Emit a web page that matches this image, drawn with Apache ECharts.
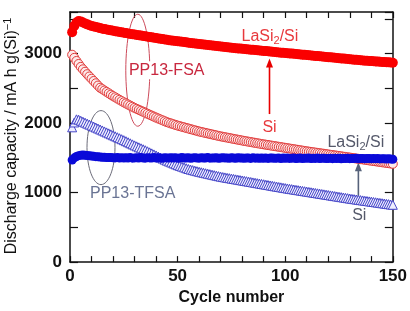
<!DOCTYPE html>
<html>
<head>
<meta charset="utf-8">
<script src="https://cdn.jsdelivr.net/npm/echarts@6/dist/echarts.min.js"></script>
<style>
  html, body { margin: 0; padding: 0; background: #fff; }
  #chart { width: 410px; height: 311px; }
</style>
</head>
<body>
<div id="chart"></div>
<script>
// discharge capacity per cycle (cycle 1..150)
const lasiFSA = [
  3310, 3400, 3450, 3470, 3465, 3450, 3435, 3422, 3410, 3400,
  3392, 3384, 3376, 3368, 3360, 3354, 3348, 3342, 3336, 3330,
  3324, 3318, 3312, 3307, 3301, 3296, 3290, 3285, 3280, 3275,
  3270, 3265, 3260, 3255, 3250, 3245, 3240, 3235, 3230, 3225,
  3220, 3215, 3210, 3205, 3200, 3195, 3191, 3187, 3183, 3179,
  3175, 3171, 3167, 3163, 3159, 3155, 3151, 3147, 3143, 3140,
  3136, 3133, 3129, 3125, 3122, 3118, 3114, 3111, 3107, 3103,
  3100, 3096, 3092, 3089, 3085, 3082, 3079, 3076, 3073, 3070,
  3067, 3064, 3061, 3058, 3055, 3052, 3049, 3046, 3043, 3040,
  3037, 3034, 3030, 3027, 3024, 3021, 3018, 3015, 3012, 3010,
  3007, 3004, 3001, 2998, 2995, 2992, 2989, 2986, 2983, 2980,
  2977, 2974, 2971, 2968, 2965, 2962, 2959, 2956, 2953, 2950,
  2947, 2944, 2941, 2938, 2935, 2932, 2929, 2926, 2923, 2920,
  2917, 2914, 2911, 2908, 2905, 2903, 2900, 2898, 2896, 2893,
  2891, 2888, 2886, 2884, 2882, 2879, 2877, 2875, 2872, 2870
];
const siFSA = [
  2985, 2940, 2895, 2852, 2810, 2775, 2740, 2705, 2672, 2640,
  2607, 2574, 2541, 2510, 2490, 2470, 2450, 2430, 2410, 2390,
  2372, 2354, 2336, 2318, 2300, 2284, 2268, 2252, 2236, 2220,
  2206, 2192, 2178, 2164, 2150, 2136, 2122, 2108, 2094, 2080,
  2067, 2054, 2041, 2028, 2015, 2005, 1995, 1985, 1975, 1965,
  1957, 1948, 1940, 1931, 1923, 1914, 1906, 1897, 1889, 1880,
  1873, 1866, 1859, 1852, 1845, 1838, 1831, 1824, 1817, 1810,
  1804, 1798, 1792, 1786, 1780, 1774, 1768, 1762, 1756, 1750,
  1744, 1739, 1733, 1728, 1722, 1717, 1711, 1706, 1700, 1695,
  1690, 1685, 1680, 1675, 1670, 1665, 1660, 1655, 1650, 1645,
  1640, 1635, 1630, 1625, 1620, 1615, 1610, 1605, 1600, 1595,
  1590, 1586, 1581, 1577, 1572, 1568, 1563, 1559, 1554, 1550,
  1545, 1541, 1536, 1532, 1527, 1523, 1518, 1514, 1509, 1505,
  1500, 1496, 1491, 1487, 1482, 1478, 1473, 1469, 1464, 1460,
  1455, 1451, 1446, 1442, 1437, 1433, 1428, 1424, 1419, 1415
];
const lasiTFSA = [
  1470, 1500, 1520, 1532, 1538, 1540, 1538, 1535, 1530, 1526,
  1522, 1518, 1515, 1512, 1510, 1508, 1506, 1505, 1504, 1502,
  1500, 1506, 1498, 1503, 1497, 1501, 1499, 1504, 1496, 1500,
  1502, 1497, 1505, 1499, 1496, 1503, 1500, 1498, 1504, 1497,
  1501, 1499, 1495, 1503, 1500, 1497, 1502, 1498, 1501, 1496,
  1500, 1504, 1497, 1499, 1502, 1495, 1500, 1503, 1498, 1496,
  1501, 1497, 1499, 1504, 1496, 1500, 1498, 1502, 1495, 1499,
  1503, 1497, 1500, 1495, 1501, 1498, 1494, 1502, 1497, 1499,
  1495, 1500, 1497, 1493, 1501, 1496, 1499, 1494, 1498, 1495,
  1500, 1493, 1497, 1499, 1494, 1496, 1500, 1492, 1497, 1495,
  1498, 1493, 1496, 1499, 1492, 1495, 1497, 1491, 1496, 1494,
  1497, 1490, 1495, 1493, 1498, 1491, 1494, 1496, 1490, 1493,
  1495, 1489, 1494, 1492, 1496, 1488, 1493, 1491, 1495, 1489,
  1492, 1490, 1494, 1487, 1491, 1493, 1488, 1490, 1492, 1486,
  1490, 1488, 1491, 1485, 1489, 1487, 1484, 1488, 1483, 1480
];
const siTFSA = [
  1940, 2010, 2055, 2050, 2035, 2021, 2007, 1993, 1979, 1965,
  1951, 1937, 1923, 1909, 1895, 1881, 1867, 1853, 1839, 1825,
  1811, 1797, 1783, 1769, 1755, 1740, 1725, 1710, 1695, 1680,
  1666, 1652, 1638, 1624, 1610, 1595, 1580, 1565, 1550, 1535,
  1520, 1505, 1490, 1475, 1460, 1447, 1434, 1421, 1408, 1395,
  1385, 1374, 1363, 1351, 1340, 1332, 1324, 1316, 1308, 1300,
  1293, 1286, 1279, 1272, 1265, 1258, 1251, 1244, 1237, 1230,
  1224, 1219, 1213, 1208, 1202, 1197, 1191, 1186, 1180, 1175,
  1169, 1164, 1158, 1153, 1147, 1142, 1136, 1131, 1125, 1120,
  1114, 1109, 1103, 1098, 1092, 1087, 1081, 1076, 1070, 1065,
  1060, 1055, 1050, 1045, 1040, 1035, 1030, 1025, 1020, 1015,
  1010, 1005, 1000, 995, 990, 985, 980, 975, 970, 965,
  960, 955, 950, 945, 940, 935, 930, 925, 920, 915,
  910, 906, 901, 897, 892, 888, 883, 879, 874, 870,
  865, 861, 856, 852, 847, 843, 838, 834, 829, 825
];
const xLabels = [0, 50, 100, 150];
const yLabels = [0, 1000, 2000, 3000];

const toPoints = vals => vals.map((v, i) => [i + 1, v]);
const font = 'Liberation Sans, Arial, sans-serif';

const chart = echarts.init(document.getElementById('chart'));

const axisCommon = {
  type: 'value',
  axisLine: { show: true, onZero: false, lineStyle: { color: '#111', width: 1.5 } },
  splitLine: { show: false },
  axisTick: { show: true, inside: true, length: 6, lineStyle: { color: '#111', width: 1.2 } }
};

chart.setOption({
  animation: false,
  grid: { left: 70, right: 16, top: 12, bottom: 42 },
  xAxis: [
    Object.assign({}, axisCommon, {
      min: 0, max: 150, interval: 10, position: 'bottom',
      name: 'Cycle number', nameLocation: 'middle', nameGap: 19,
      nameTextStyle: { fontFamily: font, fontWeight: 'bold', fontSize: 16, color: '#111' },
      axisLabel: {
        fontFamily: font, fontWeight: 'bold', fontSize: 17, color: '#111', margin: 6,
        formatter: v => (xLabels.indexOf(v) >= 0 ? String(v) : '')
      }
    }),
    Object.assign({}, axisCommon, {
      min: 0, max: 150, interval: 10, position: 'top',
      axisLabel: { show: false }
    })
  ],
  yAxis: [
    Object.assign({}, axisCommon, {
      min: 0, max: 3600, interval: 500, position: 'left',
      axisTick: { show: true, inside: true, length: 8, lineStyle: { color: '#111', width: 1.2 } },
      axisLabel: {
        fontFamily: font, fontWeight: 'bold', fontSize: 17, color: '#111', margin: 8,
        formatter: v => (yLabels.indexOf(v) >= 0 ? String(v) : '')
      }
    }),
    Object.assign({}, axisCommon, {
      min: 0, max: 3600, interval: 500, position: 'right',
      axisTick: { show: true, inside: true, length: 8, lineStyle: { color: '#111', width: 1.2 } },
      axisLabel: { show: false }
    })
  ],
  series: [
    {
      name: 'Si PP13-FSA', type: 'scatter', symbol: 'circle', symbolSize: 9,
      itemStyle: { color: '#fdeaea', borderColor: '#e03a3a', borderWidth: 1, opacity: 1 },
      data: toPoints(siFSA), z: 2
    },
    {
      name: 'Si PP13-TFSA', type: 'scatter', symbol: 'triangle', symbolSize: 9,
      itemStyle: { color: '#eeeeff', borderColor: '#4646c8', borderWidth: 1, opacity: 1 },
      data: toPoints(siTFSA), z: 3
    },
    {
      name: 'LaSi2/Si PP13-FSA', type: 'scatter', symbol: 'circle', symbolSize: 10,
      itemStyle: { color: '#fa0000', opacity: 1 },
      data: toPoints(lasiFSA), z: 4
    },
    {
      name: 'LaSi2/Si PP13-TFSA', type: 'scatter', symbol: 'circle', symbolSize: 9,
      itemStyle: { color: '#0a0ad8', opacity: 1 },
      data: toPoints(lasiTFSA), z: 5
    }
  ]
});

const px = (c, v) => chart.convertToPixel({ seriesIndex: 0 }, [c, v]);

function arrow(c, vFrom, vTo, color) {
  const a = px(c, vFrom), b = px(c, vTo);
  return {
    type: 'group', z: 20,
    children: [
      { type: 'line', shape: { x1: a[0], y1: a[1], x2: b[0], y2: b[1] + 6 }, style: { stroke: color, lineWidth: 1.6 } },
      { type: 'polygon', shape: { points: [[b[0], b[1]], [b[0] - 3.5, b[1] + 9], [b[0] + 3.5, b[1] + 9]] }, style: { fill: color } }
    ]
  };
}
function label(c, v, text, color, align, extra) {
  const p = px(c, v);
  return {
    type: 'text', x: p[0], y: p[1], z: 20,
    style: Object.assign({
      text: text, fill: color, fontFamily: font, fontSize: 16,
      align: align, verticalAlign: 'middle',
      rich: {
        sub: { fontFamily: font, fontSize: 11, fill: color, padding: [9, 0, 0, 0] }
      }
    }, extra || {})
  };
}
function ring(c, v, rx, ry, color) {
  const p = px(c, v);
  return {
    type: 'ellipse', z: 1,
    shape: { cx: p[0], cy: p[1], rx: rx, ry: ry },
    style: { fill: 'none', stroke: color, lineWidth: 1 }
  };
}

chart.setOption({
  graphic: [
    ring(31.5, 2762, 12, 56, '#cc4a5a'),
    ring(14.4, 1648, 14, 37, '#6a6a78'),
    label(79.7, 3250, 'LaSi{sub|2}/Si', '#e8383c', 'left'),
    arrow(92.7, 2131, 2929, '#e80000'),
    label(92.7, 1935, 'Si', '#e8383c', 'center'),
    label(26.9, 2762, 'PP13-FSA', '#c8283f', 'left', { backgroundColor: '#fff', padding: [1, 1, 1, 1] }),
    label(9.3, 991, 'PP13-TFSA', '#6a7494', 'left'),
    label(119.6, 1718, 'LaSi{sub|2}/Si', '#55596a', 'left'),
    arrow(134, 830, 1436, '#56627a'),
    label(134.4, 669, 'Si', '#55596a', 'center'),
    {
      type: 'text', x: 12, y: 136, rotation: Math.PI / 2, z: 20,
      style: {
        text: 'Discharge capacity / mA h g(Si){sup|−1}',
        fill: '#111', fontFamily: font, fontSize: 16,
        align: 'center', verticalAlign: 'middle',
        rich: { sup: { fontFamily: font, fontSize: 11, fill: '#111', padding: [0, 0, 9, 0] } }
      }
    }
  ]
});
</script>
</body>
</html>
